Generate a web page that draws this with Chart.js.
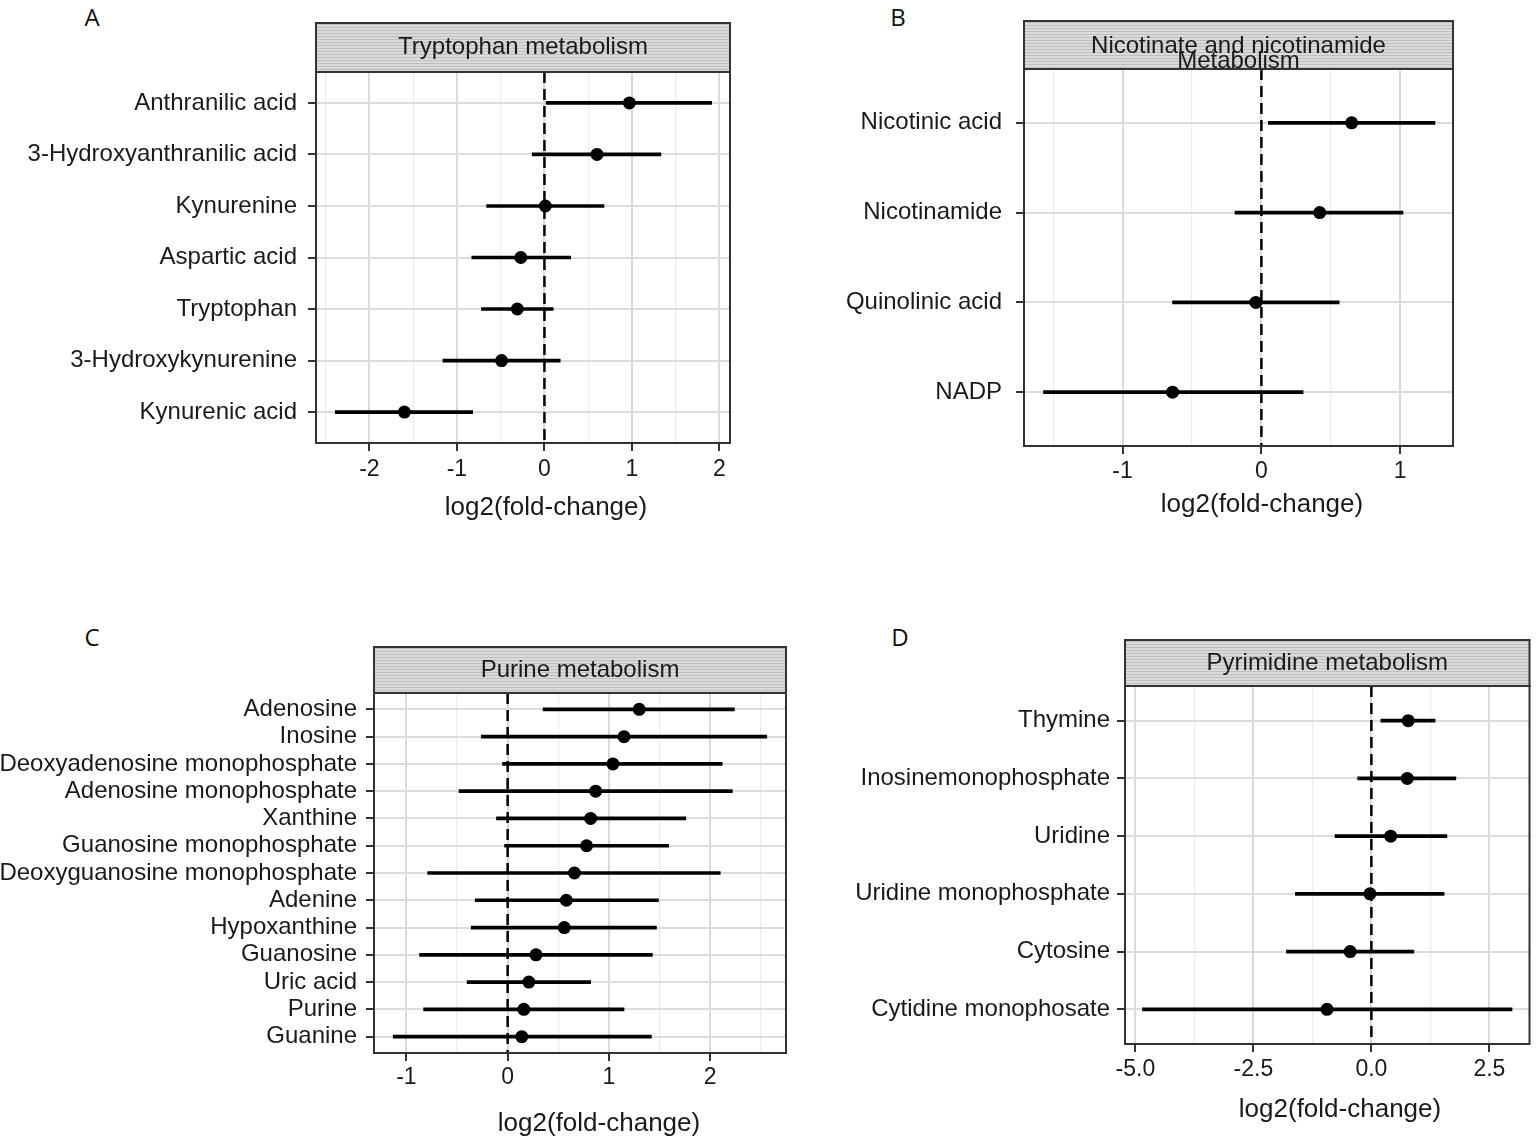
<!DOCTYPE html>
<html>
<head>
<meta charset="utf-8">
<script src="https://cdn.jsdelivr.net/npm/chart.js@4.4.1/dist/chart.umd.min.js"></script>
<style>
  html, body { margin: 0; padding: 0; background: #fff; }
  body { width: 1536px; height: 1139px; position: relative; overflow: hidden; }
  .panel { position: absolute; }
  .tag { position: absolute; font-family: "Open Sans", sans-serif; font-size: 24px; line-height: 24px; color: #111; transform: translate(-50%, -50%); }
</style>
</head>
<body>
<div class="tag" style="left:92px;top:17px">A</div>
<div class="tag" style="left:898px;top:17px">B</div>
<div class="tag" style="left:92px;top:637px">C</div>
<div class="tag" style="left:900px;top:637px">D</div>

<div class="panel" style="left:0;top:0;width:770px;height:580px"><canvas id="chartA"></canvas></div>
<div class="panel" style="left:780px;top:0;width:756px;height:580px"><canvas id="chartB"></canvas></div>
<div class="panel" style="left:0;top:590px;width:800px;height:549px"><canvas id="chartC"></canvas></div>
<div class="panel" style="left:810px;top:590px;width:726px;height:549px"><canvas id="chartD"></canvas></div>

<script>
// A - Tryptophan metabolism
const stripA = ['Tryptophan metabolism'];
const catsA = ['Anthranilic acid', '3-Hydroxyanthranilic acid', 'Kynurenine', 'Aspartic acid', 'Tryptophan', '3-Hydroxykynurenine', 'Kynurenic acid'];
const estA = [0.97, 0.60, 0.01, -0.27, -0.31, -0.49, -1.60];
const lowA = [0.02, -0.14, -0.66, -0.83, -0.72, -1.16, -2.39];
const highA = [1.91, 1.33, 0.68, 0.30, 0.10, 0.18, -0.82];
const xTicksA = [-2, -1, 0, 1, 2];
const xRangeA = [-2.61, 2.12];

// B - Nicotinate and nicotinamide metabolism
const stripB = ['Nicotinate and nicotinamide', 'Metabolism'];
const catsB = ['Nicotinic acid', 'Nicotinamide', 'Quinolinic acid', 'NADP'];
const estB = [0.65, 0.42, -0.04, -0.64];
const lowB = [0.05, -0.19, -0.64, -1.57];
const highB = [1.25, 1.02, 0.56, 0.30];
const xTicksB = [-1, 0, 1];
const xRangeB = [-1.71, 1.38];

// C - Purine metabolism
const stripC = ['Purine metabolism'];
const catsC = ['Adenosine', 'Inosine', 'Deoxyadenosine monophosphate', 'Adenosine monophosphate', 'Xanthine',
  'Guanosine monophosphate', 'Deoxyguanosine monophosphate', 'Adenine', 'Hypoxanthine', 'Guanosine',
  'Uric acid', 'Purine', 'Guanine'];
const estC = [1.30, 1.15, 1.04, 0.87, 0.82, 0.78, 0.66, 0.58, 0.56, 0.28, 0.21, 0.16, 0.14];
const lowC = [0.35, -0.26, -0.05, -0.48, -0.11, -0.03, -0.79, -0.32, -0.36, -0.87, -0.40, -0.83, -1.13];
const highC = [2.24, 2.56, 2.12, 2.22, 1.76, 1.59, 2.10, 1.49, 1.47, 1.43, 0.82, 1.15, 1.42];
const xTicksC = [-1, 0, 1, 2];
const xRangeC = [-1.32, 2.75];

// D - Pyrimidine metabolism
const stripD = ['Pyrimidine metabolism'];
const catsD = ['Thymine', 'Inosinemonophosphate', 'Uridine', 'Uridine monophosphate', 'Cytosine', 'Cytidine monophosate'];
const estD = [0.78, 0.76, 0.41, -0.03, -0.45, -0.94];
const lowD = [0.20, -0.29, -0.77, -1.61, -1.80, -4.85];
const highD = [1.35, 1.79, 1.60, 1.54, 0.90, 2.98];
const xTicksD = [-5, -2.5, 0, 2.5];
const xRangeD = [-5.22, 3.35];

const xTitle = 'log2(fold-change)';
const FONT = '"Liberation Sans", Arial, Helvetica, sans-serif';
const INK = '#1a1a1a';

// strip, panel border, dashed zero line and axis title
const panelDecor = {
  id: 'panelDecor',
  beforeDatasetsDraw(chart, args, o) {
    const { ctx, chartArea: a } = chart;
    const x0 = chart.scales.x.getPixelForValue(0);
    ctx.save();
    ctx.strokeStyle = '#000';
    ctx.lineWidth = 2.5;
    ctx.setLineDash([11, 6]);
    ctx.beginPath();
    ctx.moveTo(x0, a.top);
    ctx.lineTo(x0, a.bottom);
    ctx.stroke();
    ctx.restore();
  },
  afterDraw(chart, args, o) {
    const { ctx, chartArea: a } = chart;
    ctx.save();
    ctx.strokeStyle = '#333';
    ctx.lineWidth = 2;
    ctx.strokeRect(a.left, a.top, a.right - a.left, a.bottom - a.top);

    const top = o.stripTop;
    ctx.fillStyle = '#dadada';
    ctx.fillRect(a.left, top, a.right - a.left, a.top - top);
    ctx.fillStyle = '#bfbfbf';
    for (let y = top + 1; y < a.top; y += 3) ctx.fillRect(a.left, y, a.right - a.left, 1);
    ctx.strokeRect(a.left, top, a.right - a.left, a.top - top);

    ctx.fillStyle = INK;
    ctx.font = '24px ' + FONT;
    ctx.textAlign = 'center';
    ctx.textBaseline = 'middle';
    const cx = (a.left + a.right) / 2;
    const cy = (top + a.top) / 2 + o.shift;
    o.lines.forEach((t, i) => {
      ctx.fillText(t, cx, cy + (i - (o.lines.length - 1) / 2) * 15);
    });

    ctx.font = '26px ' + FONT;
    ctx.fillText(xTitle, o.titleX, o.titleY);
    ctx.restore();
  }
};

function makePanel(id, frame, strip, cats, est, low, high, xTicks, xRange, decimals) {
  const pl = frame.plot[0] - frame.left;
  const pt = frame.plot[1] - frame.top;
  const pr = frame.plot[2] - frame.left;
  const pb = frame.plot[3] - frame.top;
  const axisH = 50;
  const step = (xTicks[1] - xTicks[0]) / 2;
  const isMajor = v => xTicks.some(m => Math.abs(m - v) < 1e-6);
  const gridVals = [];
  for (let v = Math.ceil(xRange[0] / step - 1e-9) * step; v <= xRange[1] + 1e-9; v += step) {
    gridVals.push(Math.round(v * 1e6) / 1e6);
  }

  new Chart(document.getElementById(id), {
    type: 'scatter',
    data: {
      datasets: [
        {
          type: 'scatter',
          data: cats.map((c, i) => ({ x: est[i], y: i })),
          pointRadius: 6.5,
          pointHoverRadius: 6.5,
          backgroundColor: '#000',
          borderWidth: 0,
          order: 0
        },
        {
          type: 'bar',
          indexAxis: 'y',
          data: cats.map((c, i) => ({ y: i, x: [low[i], high[i]] })),
          backgroundColor: '#000',
          borderWidth: 0,
          barThickness: 3,
          order: 1
        }
      ]
    },
    options: {
      responsive: true,
      maintainAspectRatio: false,
      animation: false,
      layout: { padding: { left: 0, top: pt, right: frame.width - pr, bottom: frame.height - pb - axisH } },
      plugins: {
        legend: { display: false },
        tooltip: { enabled: false },
        panelDecor: {
          stripTop: frame.stripTop - frame.top,
          lines: strip,
          shift: frame.stripShift,
          titleX: frame.titleX - frame.left,
          titleY: frame.titleY - frame.top
        }
      },
      scales: {
        x: {
          type: 'linear',
          min: xRange[0],
          max: xRange[1],
          bounds: 'data',
          offset: false,
          afterFit: s => { s.height = axisH; },
          afterBuildTicks: s => { s.ticks = gridVals.map(v => ({ value: v })); },
          ticks: {
            autoSkip: false,
            maxRotation: 0,
            padding: frame.tickPad,
            color: INK,
            font: { family: FONT, size: 23 },
            callback: v => isMajor(v) ? v.toFixed(decimals) : ''
          },
          grid: {
            offset: false,
            color: c => (c.tick && isMajor(c.tick.value)) ? '#d9d9d9' : '#ebebeb',
            lineWidth: c => (c.tick && isMajor(c.tick.value)) ? 2 : 1.2,
            tickColor: c => (c.tick && isMajor(c.tick.value)) ? '#333' : 'rgba(0,0,0,0)',
            tickLength: 8,
            tickWidth: 2
          },
          border: { display: false }
        },
        y: {
          type: 'linear',
          reverse: true,
          min: -0.6,
          max: cats.length - 0.4,
          bounds: 'data',
          offset: false,
          afterFit: s => { s.width = pl; },
          afterBuildTicks: s => { s.ticks = cats.map((c, i) => ({ value: i })); },
          ticks: {
            autoSkip: false,
            padding: frame.labelPad,
            color: INK,
            font: { family: FONT, size: 24 },
            callback: v => cats[v]
          },
          grid: { offset: false, color: '#dcdcdc', lineWidth: 2, tickColor: '#333', tickLength: 8, tickWidth: 2 },
          border: { display: false }
        }
      }
    },
    plugins: [panelDecor]
  });
}

document.addEventListener('DOMContentLoaded', function() {
  makePanel('chartA',
    { left: 0, top: 0, width: 770, height: 580, plot: [316, 72, 730, 443], stripTop: 23, stripShift: 0, tickPad: 5, labelPad: 11, titleX: 546, titleY: 508 },
    stripA, catsA, estA, lowA, highA, xTicksA, xRangeA, 0);
  makePanel('chartB',
    { left: 780, top: 0, width: 756, height: 580, plot: [1024, 69, 1453, 446], stripTop: 21, stripShift: 8.5, tickPad: 4, labelPad: 14, titleX: 1262, titleY: 505 },
    stripB, catsB, estB, lowB, highB, xTicksB, xRangeB, 0);
  makePanel('chartC',
    { left: 0, top: 590, width: 800, height: 549, plot: [374, 693, 786, 1053], stripTop: 647, stripShift: 0, tickPad: 3, labelPad: 9, titleX: 599, titleY: 1124 },
    stripC, catsC, estC, lowC, highC, xTicksC, xRangeC, 0);
  makePanel('chartD',
    { left: 810, top: 590, width: 726, height: 549, plot: [1125, 686, 1534, 1044], stripTop: 640, stripShift: 0, tickPad: 4, labelPad: 7, titleX: 1340, titleY: 1110 },
    stripD, catsD, estD, lowD, highD, xTicksD, xRangeD, 1);
});
</script>
</body>
</html>
